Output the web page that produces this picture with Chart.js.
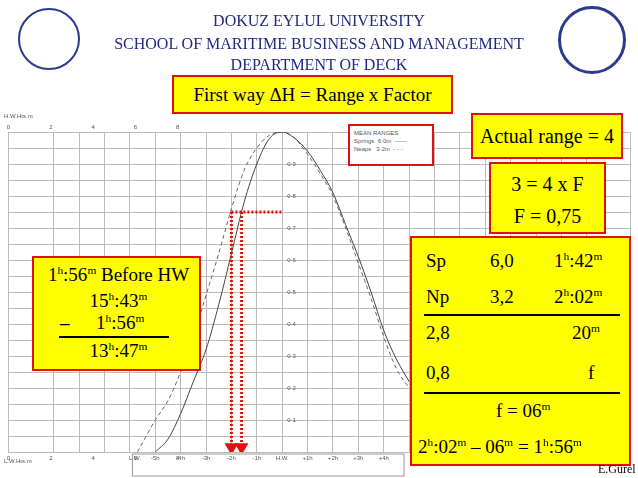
<!DOCTYPE html>
<html><head><meta charset="utf-8">
<script src="https://cdn.jsdelivr.net/npm/chart.js@4"></script>
<style>
body{margin:0;width:638px;height:478px;position:relative;overflow:hidden;background:#fff;font-family:"Liberation Serif","Times New Roman",serif}
#c{position:absolute;left:0;top:0}
.t{position:absolute;left:0;width:638px;text-align:center;color:#1f2a80;font-size:16px}
.box{position:absolute;background:#ffff00;border:2px solid #e01010;box-sizing:border-box;color:#000}
.r{position:absolute;font-size:19px;line-height:22px;white-space:nowrap}
sup{font-size:0.6em;vertical-align:0;position:relative;top:-0.6em;line-height:0}
.sm{position:absolute;font-family:"Liberation Sans",Arial;font-size:6px;color:#555}
</style></head><body>
<canvas id="c" width="638" height="478"></canvas>
<div class="t" style="top:12px">DOKUZ EYLUL UNIVERSITY</div>
<div class="t" style="top:35px">SCHOOL OF MARITIME BUSINESS AND MANAGEMENT</div>
<div class="t" style="top:56px">DEPARTMENT OF DECK</div>
<div style="position:absolute;left:18px;top:8px;width:62px;height:62px;border:2px solid #2a3a90;border-radius:50%;box-sizing:border-box"></div>
<div style="position:absolute;left:558px;top:6px;width:68px;height:68px;border:3px solid #2a3a90;border-radius:50%;box-sizing:border-box"></div>
<div class="sm" style="left:4px;top:113px">H.W.Hts.m</div>
<div class="sm" style="left:4px;top:458px">L.W.Hts.m</div>
<div class="box" style="left:172px;top:75px;width:281px;height:39px;font-size:19px;text-align:center;line-height:35px">First way ΔH = Range x Factor</div>
<div style="position:absolute;left:348px;top:124px;width:86px;height:42px;border:2px solid #e01010;background:#fff;box-sizing:border-box;font-family:'Liberation Sans';font-size:6px;color:#555;padding:3px 4px;line-height:8px">MEAN RANGES<br>Springs &nbsp;6·0m &nbsp;——<br>Neaps &nbsp;&nbsp;3·2m &nbsp;- - -</div>
<div class="box" style="left:471px;top:113px;width:152px;height:46px;font-size:20px;text-align:center;line-height:42px">Actual range = 4</div>
<div class="box" style="left:489px;top:162px;width:117px;height:72px;font-size:20px;text-align:center;line-height:32px;padding-top:4px">3 = 4 x F<br>F = 0,75</div>
<div class="box" style="left:32px;top:256px;width:169px;height:115px">
<div class="r" style="left:2px;width:165px;text-align:center;top:6px">1<sup>h</sup>:56<sup>m</sup> Before HW</div>
<div class="r" style="left:2px;width:165px;text-align:center;top:32px">15<sup>h</sup>:43<sup>m</sup></div>
<div class="r" style="left:26px;top:54px;font-weight:bold">–</div>
<div class="r" style="left:62px;top:54px">1<sup>h</sup>:56<sup>m</sup></div>
<div style="position:absolute;left:25px;top:78px;width:110px;border-top:2px solid #000"></div>
<div class="r" style="left:2px;width:165px;text-align:center;top:82px">13<sup>h</sup>:47<sup>m</sup></div>
</div>
<div class="box" style="left:410px;top:236px;width:221px;height:230px">
<div class="r" style="left:14px;top:12px">Sp</div><div class="r" style="left:78px;top:12px">6,0</div><div class="r" style="left:142px;top:12px">1<sup>h</sup>:42<sup>m</sup></div>
<div class="r" style="left:14px;top:48px">Np</div><div class="r" style="left:78px;top:48px">3,2</div><div class="r" style="left:142px;top:48px">2<sup>h</sup>:02<sup>m</sup></div>
<div style="position:absolute;left:12px;top:76px;width:196px;border-top:2px solid #000"></div>
<div class="r" style="left:14px;top:84px">2,8</div><div class="r" style="left:160px;top:84px">20<sup>m</sup></div>
<div class="r" style="left:14px;top:124px">0,8</div><div class="r" style="left:176px;top:124px">f</div>
<div style="position:absolute;left:12px;top:154px;width:196px;border-top:2px solid #000"></div>
<div class="r" style="left:84px;top:162px">f = 06<sup>m</sup></div>
<div class="r" style="left:6px;top:198px">2<sup>h</sup>:02<sup>m</sup> – 06<sup>m</sup> = 1<sup>h</sup>:56<sup>m</sup></div>
</div>
<div style="position:absolute;left:598px;top:462px;font-size:12px">E.Gürel</div>
<script>
const springHours=[-5,-4.5,-4,-3.5,-3,-2.5,-2,-1.5,-1,-0.5,0,0.5,1,1.5,2,2.5,3,3.5,4,4.5,5];
const springFactor=[0,0.04,0.12,0.22,0.32,0.46,0.62,0.78,0.9,0.98,1,0.98,0.94,0.88,0.81,0.71,0.61,0.5,0.38,0.29,0.22];
const neapHours=[-5.7,-5,-4.5,-4,-3.5,-3,-2.5,-2,-1.5,-1,-0.5,0,0.5,1,1.5,2,2.5,3,3.5,4,4.5,5];
const neapFactor=[0,0.1,0.16,0.25,0.36,0.49,0.62,0.76,0.88,0.95,0.99,1,0.98,0.93,0.87,0.8,0.7,0.59,0.48,0.36,0.26,0.2];
const factorTicks=[0.1,0.2,0.3,0.4,0.5,0.6,0.7,0.8,0.9];
const hourTicks=[-5,-4,-3,-2,-1,0,1,2,3,4];
const hourLabels=['-5h','-4h','-3h','-2h','-1h','H.W.','+1h','+2h','+3h','+4h'];
const heightTicks=[0,2,4,6,8];
const foundFactor=0.75, neapTime=-2.0, springTime=-1.6;
const hToX=h=>-10.78+h*0.833;
const toPts=(xs,ys)=>xs.map((x,i)=>({x,y:ys[i]}));
const red='#e01010';
const labels={id:'labels',afterDraw(ch){
 const c=ch.ctx,x=ch.scales.x,y=ch.scales.y;c.save();
 c.fillStyle='#555';c.font='6px "Liberation Sans"';c.textAlign='center';
 hourTicks.forEach((h,i)=>c.fillText(hourLabels[i],x.getPixelForValue(h),y.bottom+8));
 c.fillText('L.W.',x.getPixelForValue(-5.8),y.bottom+8);
 heightTicks.forEach(v=>{c.fillText(v,x.getPixelForValue(hToX(v)),y.top-3);c.fillText(v,x.getPixelForValue(hToX(v)),y.bottom+8);});
 c.textAlign='left';
 factorTicks.forEach(v=>c.fillText(v.toFixed(1).replace('0.','0·'),x.getPixelForValue(0.2),y.getPixelForValue(v)+2));
 c.strokeStyle='#999';c.strokeRect(x.getPixelForValue(-5.9),y.bottom+2,x.getPixelForValue(4.8)-x.getPixelForValue(-5.9),22);
 c.restore();}};
new Chart(document.getElementById('c'),{type:'scatter',
 data:{datasets:[
  {data:toPts(springHours,springFactor),showLine:true,borderColor:'#444',borderWidth:1,pointRadius:0,cubicInterpolationMode:'monotone'},
  {data:toPts(neapHours,neapFactor),showLine:true,borderColor:'#666',borderWidth:1,borderDash:[4,3],pointRadius:0,cubicInterpolationMode:'monotone'},
  {data:[{x:neapTime,y:foundFactor},{x:0,y:foundFactor}],showLine:true,borderColor:red,borderWidth:3,borderDash:[2,2],pointRadius:0},
  {data:[{x:neapTime,y:foundFactor},{x:neapTime,y:0.015}],showLine:true,borderColor:red,borderWidth:3,borderDash:[2,2],pointRadius:[0,5],pointStyle:'triangle',rotation:180,pointBackgroundColor:red,pointBorderColor:red},
  {data:[{x:springTime,y:foundFactor},{x:springTime,y:0.015}],showLine:true,borderColor:red,borderWidth:3,borderDash:[2,2],pointRadius:[0,5],pointStyle:'triangle',rotation:180,pointBackgroundColor:red,pointBorderColor:red}
 ]},
 options:{animation:false,responsive:false,layout:{padding:{left:8,right:0,top:132,bottom:26}},
  plugins:{legend:{display:false},tooltip:{enabled:false}},
  scales:{x:{type:'linear',min:-10.8,max:13.7,ticks:{display:false,stepSize:1},grid:{color:'#bbb',drawTicks:false},border:{display:false}},
   y:{min:0,max:1,ticks:{display:false,stepSize:0.05},grid:{color:'#bbb',drawTicks:false},border:{display:false}}}},
 plugins:[labels]});
</script></body></html>
